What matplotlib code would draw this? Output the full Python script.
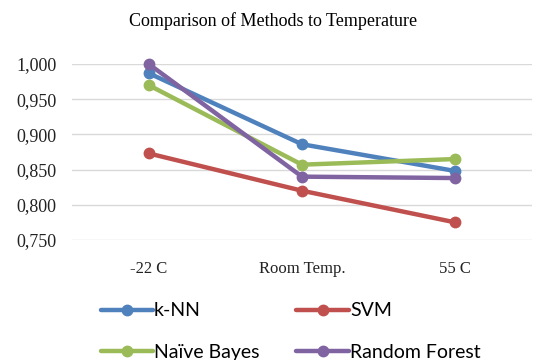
import matplotlib.pyplot as plt
from matplotlib.ticker import FuncFormatter

# categories and accuracy values
categories = ["-22 C", "Room Temp.", "55 C"]
knn = [0.987, 0.886, 0.848]
svm = [0.873, 0.820, 0.775]
naive_bayes = [0.970, 0.857, 0.865]
random_forest = [1.000, 0.840, 0.838]

series = [
    ("k-NN", knn, "#4F81BD"),
    ("SVM", svm, "#C0504D"),
    ("Naïve Bayes", naive_bayes, "#9BBB59"),
    ("Random Forest", random_forest, "#8064A2"),
]

fig = plt.figure(figsize=(5.46, 3.6), dpi=100)
ax = fig.add_axes([72 / 546, 1 - 240 / 360, (532 - 72) / 546, (240 - 64) / 360])

x = range(len(categories))
lines = []
for name, vals, col in series:
    ln, = ax.plot(x, vals, color=col, lw=3.2, marker="o", ms=7.5,
                  label=name, clip_on=False, solid_capstyle="round")
    lines.append(ln)

ax.set_xlim(-0.5, len(categories) - 0.5)
ax.set_ylim(0.75, 1.0)
ax.set_yticks([0.75, 0.80, 0.85, 0.90, 0.95, 1.00])
ax.yaxis.set_major_formatter(FuncFormatter(lambda v, p: f"{v:.3f}".replace(".", ",")))
ax.set_xticks(list(x))
ax.set_xticklabels(categories)
ax.grid(axis="y", color="#d9d9d9", lw=1)
ax.set_axisbelow(True)
for s in ax.spines.values():
    s.set_visible(False)
ax.tick_params(length=0)
ax.tick_params(axis="x", labelsize=12, pad=15)
ax.tick_params(axis="y", labelsize=13, pad=11)
for lab in ax.get_xticklabels() + ax.get_yticklabels():
    lab.set_fontfamily("Liberation Serif")
    lab.set_color("#222222")

fig.text(0.5, 1 - 21 / 360, "Comparison of Methods to Temperature",
         ha="center", va="center", fontsize=13, family="Liberation Serif")

# legend fills row by row in the reference
order = [0, 2, 1, 3]
fig.legend([lines[i] for i in order], [series[i][0] for i in order],
           loc="upper left", bbox_to_anchor=(83 / 546, 1 - 285 / 360), ncol=2,
           frameon=False, prop={"family": "Lato", "size": 14},
           handlelength=2.7, handletextpad=0.05, columnspacing=1.9,
           labelspacing=1.25)

fig.savefig("out.png", dpi=100)
